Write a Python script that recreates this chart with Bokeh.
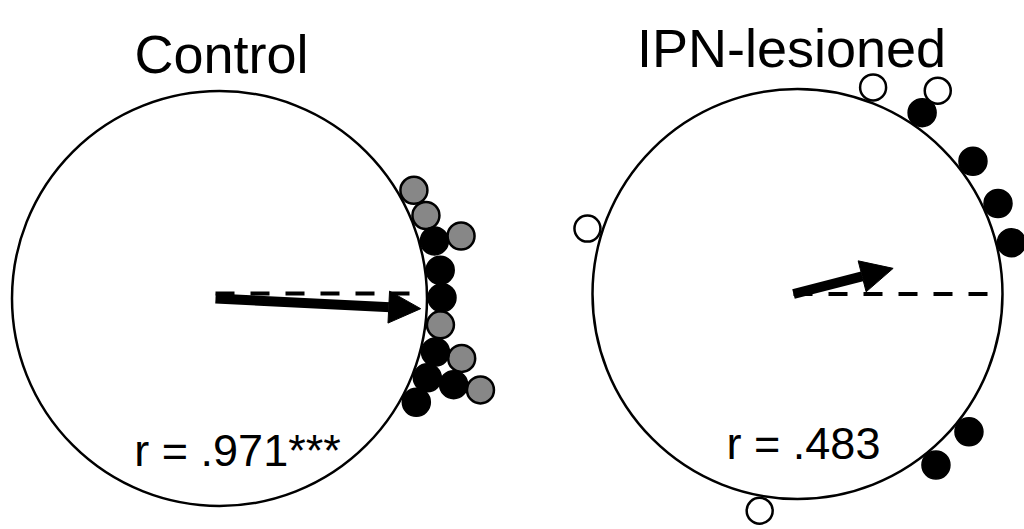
import numpy as np
from bokeh.plotting import figure
from bokeh.models import Range1d, ColumnDataSource, Arrow, NormalHead
from bokeh.core.properties import value
from bokeh.embed import file_html
from bokeh.resources import INLINE

# ---- data ----
panel_titles = ["Control", "IPN-lesioned"]
r_labels = ["r = .971***", "r = .483"]
mean_r = [0.971, 0.483]
mean_angle_deg = [-2.9, 15.0]

# individual fish headings (degrees, 0 = reference direction) and stack level
ctrl_black_ang = [15.0, 7.3, 0.2, -13.9, -20.9, -20.2, -27.8]
ctrl_black_lvl = [0, 0, 0, 0, 0, 1, 0]
ctrl_gray_ang = [29.1, 21.9, 14.5, -6.8, -13.9, -19.3]
ctrl_gray_lvl = [0, 0, 1, 0, 1, 2]

ipn_black_ang = [55.5, 37.1, 24.3, 13.5, -38.8, -51.0]
ipn_black_lvl = [0, 0, 0, 0, 0, 0]
ipn_open_ang = [69.9, 55.4, 162.7, -99.9]
ipn_open_lvl = [0, 1, 0, 0]

# ---- layout (pixels) ----
W, H = 1024, 529
centers = [(219, H - 298), (797, H - 293.5)]
radii = [207.5, 205.0]
ref_offset = [5, 0]
dot_gap = 15.0
dot_step = 27.0
dot_size = 28

p = figure(width=W, height=H, x_range=Range1d(0, W), y_range=Range1d(0, H),
           output_backend="svg", toolbar_location=None,
           x_axis_type=None, y_axis_type=None, min_border=0)
p.outline_line_color = None
p.grid.visible = False
p.background_fill_color = "white"


def dots(ci, ang, lvl):
    cx, cy = centers[ci]
    R = radii[ci]
    a = np.deg2rad(np.array(ang))
    d = R + dot_gap + np.array(lvl) * dot_step
    return cx + d * np.cos(a), cy + d * np.sin(a)


# circles
p.circle(x=[c[0] for c in centers], y=[c[1] for c in centers], radius=radii,
         fill_color="white", line_color="black", line_width=2.5)

# reference dashed lines (0 deg)
p.segment(x0=[c[0] - 4 for c in centers], y0=[c[1] + o for c, o in zip(centers, ref_offset)],
          x1=[c[0] + R - 2 for c, R in zip(centers, radii)],
          y1=[c[1] + o for c, o in zip(centers, ref_offset)],
          line_color="black", line_width=4, line_dash="19 16")

# mean vectors
ax0, ay0, ax1, ay1 = [], [], [], []
for i in range(2):
    cx, cy = centers[i]
    L = mean_r[i] * radii[i]
    a = np.deg2rad(mean_angle_deg[i])
    ax0.append(cx - 4); ay0.append(cy)
    ax1.append(cx + L * np.cos(a)); ay1.append(cy + L * np.sin(a))
asrc = ColumnDataSource(dict(x0=ax0, y0=ay0, x1=ax1, y1=ay1))
p.add_layout(Arrow(end=NormalHead(size=32, fill_color="black", line_color="black", line_width=1),
                   x_start="x0", y_start="y0", x_end="x1", y_end="y1",
                   line_width=10, line_color="black", source=asrc))

# dots
x, y = dots(0, ctrl_gray_ang, ctrl_gray_lvl)
p.scatter(x, y, size=dot_size - 1, fill_color="#878787", line_color="black", line_width=2.5)
x, y = dots(0, ctrl_black_ang, ctrl_black_lvl)
p.scatter(x, y, size=dot_size, fill_color="black", line_color="black", line_width=1.5)
x, y = dots(1, ipn_open_ang, ipn_open_lvl)
p.scatter(x, y, size=dot_size - 2, fill_color="white", line_color="black", line_width=2.5)
x, y = dots(1, ipn_black_ang, ipn_black_lvl)
p.scatter(x, y, size=dot_size, fill_color="black", line_color="black", line_width=1.5)

# titles and r labels
p.text(x=[221, 791], y=[H - 53, H - 47], text=panel_titles,
       text_font=value("Liberation Sans"), text_font_size=value("54px"),
       text_align="center", text_baseline="alphabetic", text_color="black")
p.text(x=[237, 803], y=[H - 450, H - 443], text=r_labels,
       text_font=value("Liberation Sans"), text_font_size=value("45px"),
       text_align="center", text_baseline="alphabetic", text_color="black")

open("out.html", "w").write(file_html(p, INLINE))
